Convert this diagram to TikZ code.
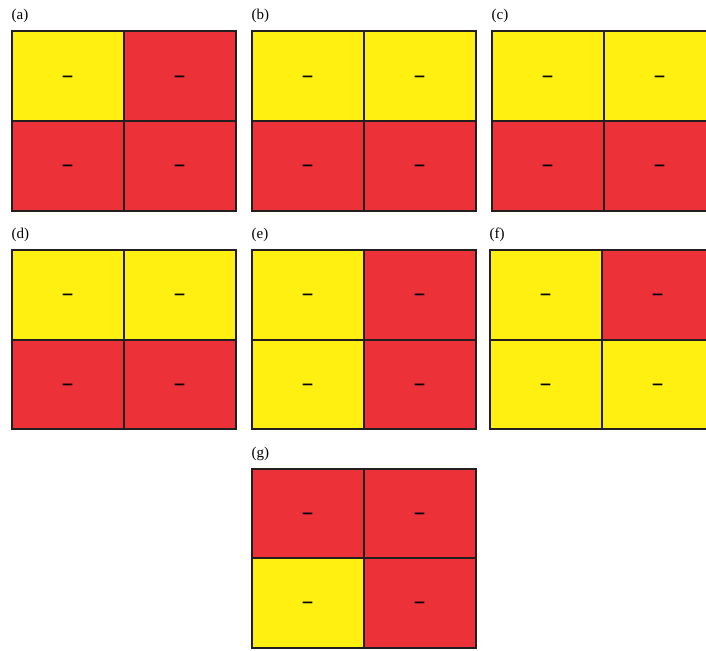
\documentclass[tikz,border=0pt]{standalone}
\usepackage{fontspec}
\setmainfont{Liberation Serif}
\newfontfamily\signfont{DejaVu Sans}
\usepackage{tikz}
\usetikzlibrary{positioning}
\definecolor{cellyellow}{RGB}{255,240,18}
\definecolor{cellred}{RGB}{236,50,56}
\definecolor{gridline}{RGB}{35,31,32}

\begin{document}
\begin{tikzpicture}[x=1pt,y=-1pt,
    cell/.style={rectangle, inner sep=0pt, outer sep=0pt,
        minimum width=112pt, minimum height=89.5pt,
        text height=14pt, text depth=0pt,
        font=\signfont\fontsize{24}{24}\selectfont},
    edge/.style={draw=gridline, line width=2pt},
    panellabel/.style={anchor=base west, inner sep=0pt,
        font=\fontsize{15}{15}\selectfont}]

        %=====================
        % Page
        %=====================
        \useasboundingbox (0,0) rectangle (706,650);

        \begin{scope}
        \clip (0,0) rectangle (706,650);

        %=====================
        % Panels (a)--(g): label, 2x2 cells, then the grid lines
        %=====================
        \foreach \p/\px/\py/\ctl/\ctr/\cbl/\cbr in {
            a/11.5/31.5/cellyellow/cellred/cellred/cellred,
            b/251.5/31.5/cellyellow/cellyellow/cellred/cellred,
            c/491.5/31.5/cellyellow/cellyellow/cellred/cellred,
            d/11.5/250/cellyellow/cellyellow/cellred/cellred,
            e/251.5/250/cellyellow/cellred/cellyellow/cellred,
            f/489.5/250/cellyellow/cellred/cellyellow/cellyellow,
            g/251.5/468.5/cellred/cellred/cellyellow/cellred}
        {
            \node[panellabel] (\p-label) at (\px,\py-11.5) {(\p)};
            \node[cell, fill=\ctl, anchor=north west] (\p-tl) at (\px,\py) {–};
            \node[cell, fill=\ctr, right=0pt of \p-tl] (\p-tr) {–};
            \node[cell, fill=\cbl, below=0pt of \p-tl] (\p-bl) {–};
            \node[cell, fill=\cbr, right=0pt of \p-bl] (\p-br) {–};
            % outline and cross
            \draw[edge] (\p-tl.north west) rectangle (\p-br.south east);
            \draw[edge] (\p-tl.north east) -- (\p-br.south west);
            \draw[edge] (\p-tl.south west) -- (\p-br.north east);
        }
        \end{scope}

\end{tikzpicture}
\end{document}
